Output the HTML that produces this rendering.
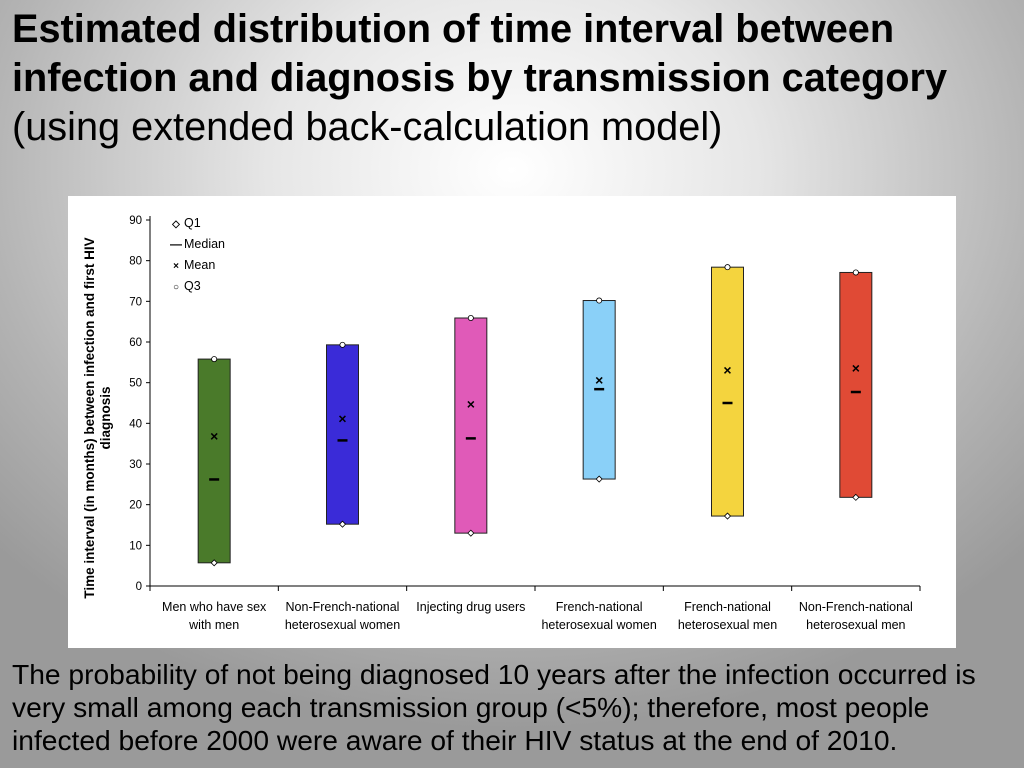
<!DOCTYPE html>
<html><head><meta charset="utf-8"><style>
body{margin:0;width:1024px;height:768px;overflow:hidden;font-family:"Liberation Sans",sans-serif;
background:radial-gradient(ellipse 700px 560px at 512px 170px,#ffffff 0%,#e6e6e6 35%,#b4b4b4 75%,#9a9a9a 100%);position:relative}
#title{position:absolute;left:12px;top:5px;font-size:39.7px;line-height:49px;color:#000;margin:0;white-space:nowrap}
#title b{font-weight:bold}
#note{position:absolute;left:12px;top:658px;font-size:28.2px;line-height:33px;color:#000;width:1010px;margin:0;white-space:nowrap}
#chart{position:absolute;left:68px;top:196px}
</style></head><body>
<div id="title"><b>Estimated distribution of time interval between<br>infection and diagnosis by transmission category</b><br>(using extended back-calculation model)</div>
<svg id="chart" width="888" height="452" xmlns="http://www.w3.org/2000/svg" font-family="Liberation Sans, sans-serif"></svg>
<p id="note">The probability of not being diagnosed 10 years after the infection occurred is<br>very small among each transmission group (&lt;5%); therefore, most people<br>infected before 2000 were aware of their HIV status at the end of 2010.</p>
<script>
const categories=[["Men who have sex","with men"],["Non-French-national","heterosexual women"],["Injecting drug users",""],["French-national","heterosexual women"],["French-national","heterosexual men"],["Non-French-national","heterosexual men"]];
const q1=[5.7,15.2,13,26.3,17.2,21.8];
const q3=[55.8,59.3,65.9,70.2,78.4,77.1];
const median=[26.2,35.8,36.3,48.4,45,47.7];
const mean=[36.9,41.2,44.7,50.6,53.1,53.6];
const colors=["#4a7a2a","#3a2bd8","#e05ab8","#8ad0f8","#f4d43e","#e04a35"];
const yTicks=[0,10,20,30,40,50,60,70,80,90];
const NS="http://www.w3.org/2000/svg";
const svg=document.getElementById('chart');
function mk(t,a,p){const e=document.createElementNS(NS,t);for(const k in a)e.setAttribute(k,a[k]);(p||svg).appendChild(e);return e;}
mk('rect',{x:0,y:0,width:888,height:452,fill:'#fff'});
const x0=82,x1=852,yb=390,yt=24;
const y=v=>yb-(v/90)*(yb-yt);
const bw=(x1-x0)/categories.length;
const xc=i=>x0+bw*(i+0.5);
let ax=mk('line',{x1:x0,y1:yt-4,x2:x0,y2:yb,stroke:'#000','stroke-width':1});

let bx=mk('line',{x1:x0,y1:yb,x2:x1,y2:yb,stroke:'#000','stroke-width':1});

yTicks.forEach(v=>{mk('line',{x1:x0-4,y1:y(v),x2:x0,y2:y(v),stroke:'#000'});
 const t=mk('text',{x:x0-8,y:y(v)+4,'text-anchor':'end','font-size':11.5});t.textContent=v;
 });
for(let i=0;i<=categories.length;i++)mk('line',{x1:x0+bw*i,y1:yb,x2:x0+bw*i,y2:yb+5,stroke:'#000'});
const yt2=mk('text',{transform:`translate(26,222) rotate(-90)`,'text-anchor':'middle','font-size':13.5,'font-weight':'bold'});

mk('tspan',{x:0,dy:0},yt2).textContent='Time interval (in months) between infection and first HIV';
mk('tspan',{x:0,dy:16},yt2).textContent='diagnosis';
categories.forEach((c,i)=>{const cx=xc(i);
 const r=mk('rect',{x:cx-16,y:y(q3[i]),width:32,height:y(q1[i])-y(q3[i]),fill:colors[i],stroke:'#222','stroke-width':1});
 
 const d=mk('path',{d:`M${cx} ${y(q1[i])-3}l3 3l-3 3l-3 -3z`,fill:'#fff',stroke:'#000','stroke-width':0.8});
 
 const o=mk('circle',{cx:cx,cy:y(q3[i]),r:2.6,fill:'#fff',stroke:'#000','stroke-width':0.8});
 
 const m=mk('line',{x1:cx-5,y1:y(median[i]),x2:cx+5,y2:y(median[i]),stroke:'#000','stroke-width':2.5});
 
 const s=mk('text',{x:cx,y:y(mean[i])+5,'text-anchor':'middle','font-size':14,'font-weight':'bold'});s.textContent='×';
 
 const t=mk('text',{x:cx,y:yb+25,'text-anchor':'middle','font-size':12.5});
 
 mk('tspan',{x:cx,dy:0},t).textContent=c[0];mk('tspan',{x:cx,dy:18},t).textContent=c[1];
});
const lg=[['◇','Q1'],['—','Median'],['×','Mean'],['○','Q3']];
lg.forEach((l,i)=>{const yy=31+i*21;
 const g=mk('g',{});
 const a=mk('text',{x:108,y:yy,'text-anchor':'middle','font-size':i==1?12:10,'font-weight':'bold'},g);a.textContent=l[0];
 const b=mk('text',{x:116,y:yy,'font-size':12.5},g);b.textContent=l[1];});
</script>
</body></html>
